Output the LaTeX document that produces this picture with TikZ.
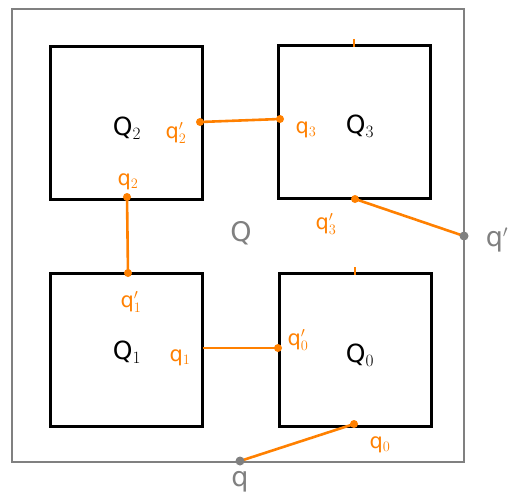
\documentclass[tikz,border=0pt]{standalone}
\usepackage{fontspec}
\setmainfont{DejaVu Sans}
\usetikzlibrary{calc}
\definecolor{portorange}{RGB}{255,128,0}
\definecolor{framegray}{RGB}{128,128,128}
\tikzset{
	block/.style={draw=black, line width=3pt, minimum width=152pt, minimum height=153pt, inner sep=0pt},
	blocklabel/.style={font=\fontsize{25}{28}\selectfont},
	link/.style={draw=portorange, line width=2.6pt},
	port/.style={portorange, font=\fontsize{21}{24}\selectfont},
	outer/.style={framegray, font=\fontsize{27}{30}\selectfont},
}
\begin{document}
\begin{tikzpicture}[x=1pt, y=-1pt]
		\useasboundingbox (0,0) rectangle (521,495);

		% outer component Q
		\draw[framegray, line width=2.6pt] (12,9) rectangle (464,462);
		\node[outer] (Q) at (241,233) {Q};

		% the four sub-blocks
		\node[block] (Q2) at (126,123) {};
		\node[block] (Q3) at (354,122) {};
		\node[block] (Q1) at (126,350) {};
		\node[block] (Q0) at (355,350) {};

		\node[blocklabel] (lQ2) at (127,128) {Q$_2$};
		\node[blocklabel] (lQ3) at (360,126) {Q$_3$};
		\node[blocklabel] (lQ1) at (127,352) {Q$_1$};
		\node[blocklabel] (lQ0) at (360,355) {Q$_0$};

		% ports
		\coordinate (p2a) at (200,122);
		\coordinate (p3a) at (280,119);
		\coordinate (p2b) at (127,197);
		\coordinate (p1a) at (128,273);
		\coordinate (p1b) at (203,348);
		\coordinate (p0a) at (278,348);
		\coordinate (p3b) at (355,199);
		\coordinate (pq1) at (464,236);
		\coordinate (p0b) at (354,424);
		\coordinate (pq) at (240,461);

		% connections
		\draw[link] (p2a) -- (p3a);
		\draw[link] (p2b) -- (p1a);
		\draw[link] (p1b) -- (p0a);
		\draw[link] (p3b) -- (pq1);
		\draw[link] (p0b) -- (pq);

		\foreach \p in {p2a,p3a,p2b,p1a,p0a,p3b,p0b}
			\fill[portorange] (\p) circle (4pt);
		\foreach \p in {pq1,pq}
			\fill[framegray] (\p) circle (4.5pt);

		% small marks on top of Q3 and Q0
		\draw[link] ($(Q3.north)+(0,-5)$) -- ($(Q3.north)+(0,3)$);
		\draw[link] ($(Q0.north)+(0,-5)$) -- ($(Q0.north)+(0,3)$);

		% port labels
		\node[port] (l2a) at (176,133) {q$'_2$};
		\node[port] (l3a) at (306,130) {q$_3$};
		\node[port] (l2b) at (128,182) {q$_2$};
		\node[port] (l1a) at (131,302) {q$'_1$};
		\node[port] (l1b) at (180,358) {q$_1$};
		\node[port] (l0a) at (298,340) {q$'_0$};
		\node[port] (l3b) at (326,224) {q$'_3$};
		\node[port] (l0b) at (380,445) {q$_0$};
		\node[outer] (lq1) at (497,240) {q$'$};
		\node[outer] (lq) at (240,482) {q};
	\end{tikzpicture}
\end{document}
